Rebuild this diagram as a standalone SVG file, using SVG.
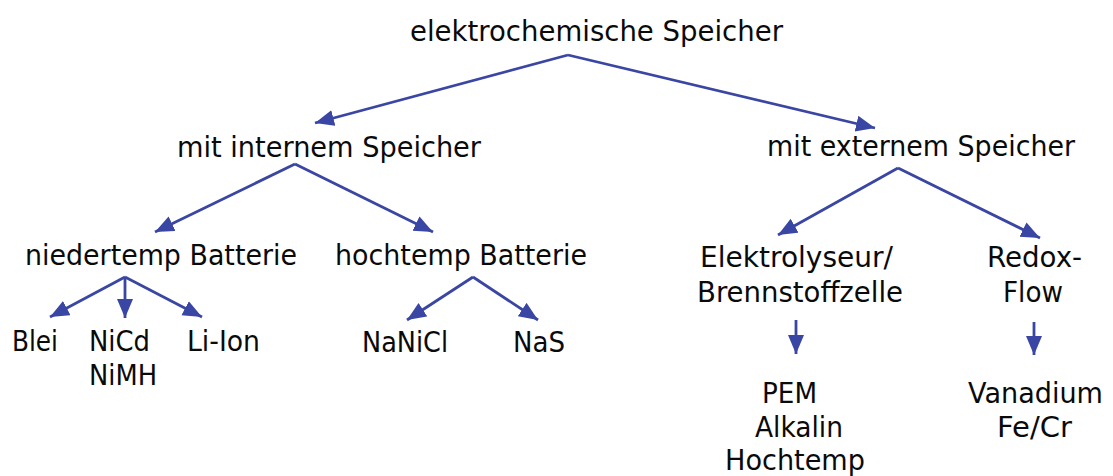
<svg xmlns="http://www.w3.org/2000/svg" width="1113" height="476" viewBox="0 0 1113 476">
<style>
text{font-family:"DejaVu Sans","Liberation Sans",sans-serif;font-size:28px;fill:#0a0a0a;}
.c line{stroke:#3a46a3;stroke-width:2.8;marker-end:url(#ah);}
</style>
<defs>
<marker id="ah" markerUnits="userSpaceOnUse" markerWidth="22" markerHeight="18" refX="19" refY="8" orient="auto" viewBox="0 0 22 18">
<path d="M0,0 L19,8 L0,16 z" fill="#3a46a3"/>
</marker>
</defs>
<rect width="1113" height="476" fill="#fff"/>
<g id="root"><text x="410" y="41" textLength="373" lengthAdjust="spacingAndGlyphs">elektrochemische Speicher</text></g>
<g id="intern"><text x="177" y="157" textLength="304" lengthAdjust="spacingAndGlyphs">mit internem Speicher</text></g>
<g id="extern"><text x="767" y="156" textLength="308" lengthAdjust="spacingAndGlyphs">mit externem Speicher</text></g>
<g id="nieder"><text x="25" y="265" textLength="272" lengthAdjust="spacingAndGlyphs">niedertemp Batterie</text></g>
<g id="hoch"><text x="335" y="265" textLength="252" lengthAdjust="spacingAndGlyphs">hochtemp Batterie</text></g>
<g id="elektrolyseur"><text x="700" y="267" textLength="193" lengthAdjust="spacingAndGlyphs">Elektrolyseur/</text><text x="697" y="302" textLength="206" lengthAdjust="spacingAndGlyphs">Brennstoffzelle</text></g>
<g id="redox"><text x="987" y="267" textLength="95" lengthAdjust="spacingAndGlyphs">Redox-</text><text x="1003" y="302" textLength="60" lengthAdjust="spacingAndGlyphs">Flow</text></g>
<g id="blei"><text x="12" y="351" textLength="46" lengthAdjust="spacingAndGlyphs">Blei</text></g>
<g id="nicd"><text x="89" y="351" textLength="61" lengthAdjust="spacingAndGlyphs">NiCd</text><text x="89" y="385" textLength="68" lengthAdjust="spacingAndGlyphs">NiMH</text></g>
<g id="liion"><text x="187" y="351" textLength="73" lengthAdjust="spacingAndGlyphs">Li-Ion</text></g>
<g id="nanicl"><text x="362" y="352" textLength="86" lengthAdjust="spacingAndGlyphs">NaNiCl</text></g>
<g id="nas"><text x="513" y="352" textLength="52" lengthAdjust="spacingAndGlyphs">NaS</text></g>
<g id="pem"><text x="762" y="403" textLength="55" lengthAdjust="spacingAndGlyphs">PEM</text><text x="755" y="437" textLength="88" lengthAdjust="spacingAndGlyphs">Alkalin</text><text x="725" y="470" textLength="140" lengthAdjust="spacingAndGlyphs">Hochtemp</text></g>
<g id="vanadium"><text x="968" y="403" textLength="135" lengthAdjust="spacingAndGlyphs">Vanadium</text><text x="997" y="437" textLength="75" lengthAdjust="spacingAndGlyphs">Fe/Cr</text></g>
<g class="c" id="connectors">
<line x1="568" y1="55" x2="315" y2="123"/>
<line x1="568" y1="55" x2="875" y2="128"/>
<line x1="295" y1="164" x2="155" y2="232"/>
<line x1="295" y1="164" x2="433" y2="232"/>
<line x1="898" y1="168" x2="778" y2="235"/>
<line x1="898" y1="168" x2="1040" y2="238"/>
<line x1="125" y1="277" x2="50" y2="317"/>
<line x1="125" y1="277" x2="125" y2="318"/>
<line x1="125" y1="277" x2="202" y2="317"/>
<line x1="473" y1="277" x2="407" y2="320"/>
<line x1="473" y1="277" x2="538" y2="320"/>
<line x1="796" y1="320" x2="796" y2="354"/>
<line x1="1034" y1="322" x2="1034" y2="355"/>
</g>
</svg>
